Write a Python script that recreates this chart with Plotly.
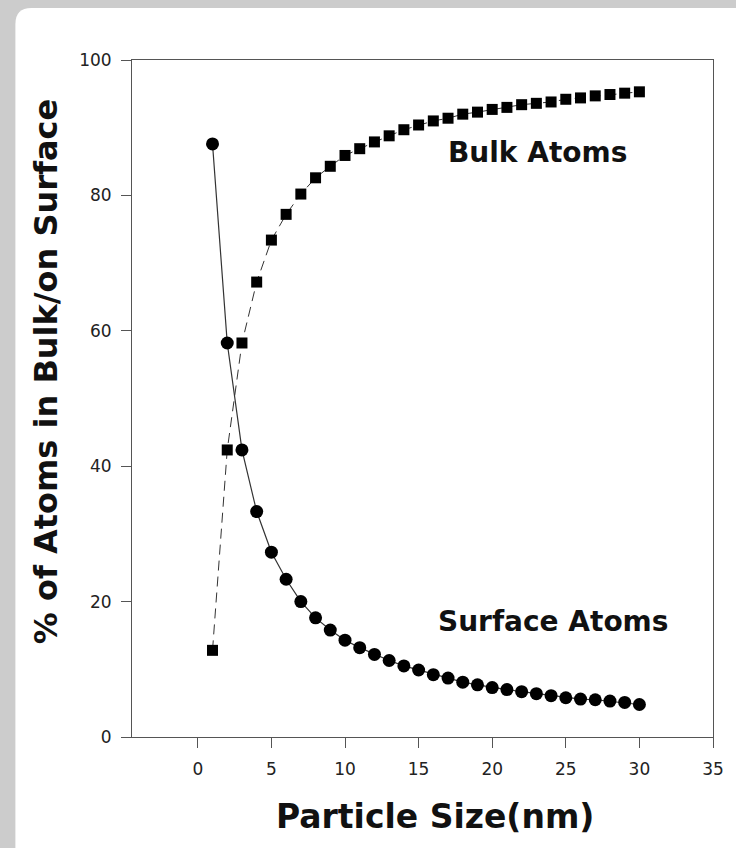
import plotly.graph_objects as go

# ---- data ----
particle_size = list(range(1, 31))
surface_atoms = [87.6, 58.2, 42.4, 33.3, 27.3, 23.3, 20.0, 17.6, 15.8, 14.3,
                 13.2, 12.2, 11.3, 10.5, 9.9, 9.2, 8.7, 8.1, 7.7, 7.3,
                 7.0, 6.7, 6.4, 6.1, 5.8, 5.6, 5.5, 5.3, 5.1, 4.8]
bulk_atoms = [12.8, 42.4, 58.2, 67.2, 73.4, 77.2, 80.2, 82.6, 84.3, 85.9,
              86.9, 87.9, 88.8, 89.7, 90.4, 91.0, 91.4, 92.0, 92.3, 92.7,
              93.0, 93.4, 93.6, 93.8, 94.2, 94.4, 94.7, 94.9, 95.1, 95.3]
x_ticks = [0, 5, 10, 15, 20, 25, 30, 35]
y_ticks = [0, 20, 40, 60, 80, 100]
x_title = "Particle Size(nm)"
y_title = "% of Atoms in Bulk/on Surface"
bulk_label = "Bulk Atoms"
surface_label = "Surface Atoms"

# ---- layout geometry (pixels) ----
W, H = 736, 848
L, R, T, B = 132, 715, 60, 737
pw, ph = R - L, B - T


def px(x):
    return (x - L) / pw


def py(y):
    return (B - y) / ph


FONT = "DejaVu Sans, sans-serif"
AX = "#555555"

fig = go.Figure()

fig.add_trace(go.Scatter(
    x=particle_size, y=bulk_atoms, mode="lines+markers",
    line=dict(color="#333333", width=1, dash="10px,6px"),
    marker=dict(symbol="square", size=11, color="black"),
    showlegend=False, cliponaxis=False))
fig.add_trace(go.Scatter(
    x=particle_size, y=surface_atoms, mode="lines+markers",
    line=dict(color="#333333", width=1.2),
    marker=dict(symbol="circle", size=13, color="black"),
    showlegend=False, cliponaxis=False))

# white panel with rounded top-left corner on gray background
x0, y0, x1, y1, r = 15, 8, 760, 870, 16
path = (f"M {px(x0)},{py(y0 + r)} Q {px(x0)},{py(y0)} {px(x0 + r)},{py(y0)} "
        f"L {px(x1)},{py(y0)} L {px(x1)},{py(y1)} L {px(x0)},{py(y1)} Z")
fig.add_shape(type="path", path=path, xref="paper", yref="paper",
              fillcolor="white", line=dict(width=0), layer="below")

fig.add_annotation(x=23.1, y=86.3, xref="x", yref="y", text=f"<b>{bulk_label}</b>",
                   showarrow=False, font=dict(family=FONT, size=28, color="#111111"))
fig.add_annotation(x=24.1, y=17.1, xref="x", yref="y", text=f"<b>{surface_label}</b>",
                   showarrow=False, font=dict(family=FONT, size=28, color="#111111"))
fig.add_annotation(x=px(436), y=py(816), xref="paper", yref="paper",
                   text=f"<b>{x_title}</b>", showarrow=False,
                   xanchor="center", yanchor="middle",
                   font=dict(family=FONT, size=33, color="#111111"))
fig.add_annotation(x=px(46), y=py(371), xref="paper", yref="paper",
                   text=f"<b>{y_title}</b>", showarrow=False, textangle=-90,
                   xanchor="center", yanchor="middle",
                   font=dict(family=FONT, size=32, color="#111111"))

fig.update_xaxes(range=[-4.47, 35], tickvals=x_ticks, ticks="outside", ticklen=10,
                 tickcolor=AX, tickwidth=1, showline=True, linecolor=AX, linewidth=1,
                 mirror=True, showgrid=False, zeroline=False, ticklabelstandoff=7,
                 tickfont=dict(family=FONT, size=17, color="#222222"))
fig.update_yaxes(range=[0, 100], tickvals=y_ticks, ticks="outside", ticklen=10,
                 tickcolor=AX, tickwidth=1, showline=True, linecolor=AX, linewidth=1,
                 mirror=True, showgrid=False, zeroline=False, ticklabelstandoff=6,
                 tickfont=dict(family=FONT, size=17, color="#222222"))

fig.update_layout(width=W, height=H, margin=dict(l=L, r=W - R, t=T, b=H - B),
                  paper_bgcolor="#cccccc", plot_bgcolor="white")

fig.write_html("out.html", config={"displayModeBar": False},
               post_script="document.body.style.margin='0';")
